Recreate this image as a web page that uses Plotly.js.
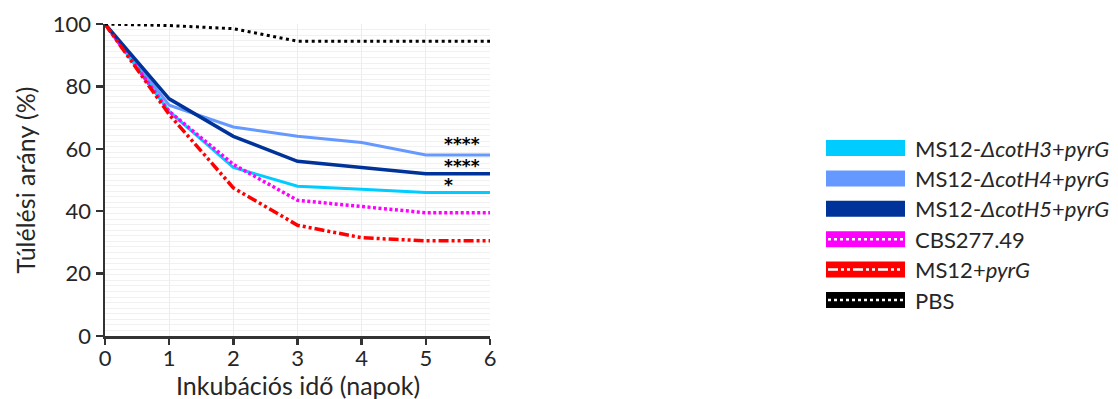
<!DOCTYPE html>
<html>
<head>
<meta charset="utf-8">
<script src="https://cdn.plot.ly/plotly-3.0.1.min.js"></script>
<style>html,body{margin:0;padding:0;background:#fff;}#chart{width:1118px;height:399px;}</style>
</head>
<body>
<div id="chart"></div>
<script>
// Data
const days = [0, 1, 2, 3, 4, 5, 6];
const cotH3 = [100, 72, 54, 48, 47, 46, 46];
const cotH4 = [100, 74, 67, 64, 62, 58, 58];
const cotH5 = [100, 76, 64, 56, 54, 52, 52];
const cbs = [100, 72, 55, 43.5, 41.5, 39.5, 39.5];
const ms12 = [100, 71, 47.5, 35.5, 31.5, 30.5, 30.5];
const pbs = [100, 99.5, 98.5, 94.5, 94.5, 94.5, 94.5];
const seriesNames = ['MS12-<i>ΔcotH3</i>+<i>pyrG</i>', 'MS12-<i>ΔcotH4</i>+<i>pyrG</i>', 'MS12-<i>ΔcotH5</i>+<i>pyrG</i>', 'CBS277.49', 'MS12+<i>pyrG</i>', 'PBS'];
const sigLabels = ['****', '****', '*'];
const sigY = [61.5, 54.5, 48.3];
const sigX = 5.25;
const xTitle = 'Inkubációs idő (napok)';
const yTitle = 'Túlélési arány (%)';

const colors = ['#00CCFF', '#6699FF', '#003399', '#FF00FF', '#FF0000', '#000000'];
const seriesData = [cotH3, cotH4, cotH5, cbs, ms12, pbs];
const dashes = ['solid', 'solid', 'solid', '3px,2.5px', '10px,3px,3px,3px,3px,3px', '3px,3.5px'];
const widths = [3, 3, 3.5, 3.5, 3.5, 3];
const drawOrder = [1, 0, 3, 2, 4, 5];

const traces = drawOrder.map(i => ({
  x: days, y: seriesData[i], type: 'scatter', mode: 'lines',
  line: {color: colors[i], width: widths[i], dash: dashes[i]},
  cliponaxis: false, showlegend: false, hoverinfo: 'skip'
}));

const L = 105, R = 490, T = 24, B = 336;
const W = 1118, H = 399;
const px2x = p => (p - L) / (R - L);
const px2y = p => (B - p) / (B - T);

const FONT = 'Lato, "Open Sans", sans-serif';
const shapes = [];
const annotations = [];
const legendTop = 148, legendStep = 30.4;
const legendDash = [null, null, null, 'dot', '10px,3px,3px,3px,3px,3px', 'dot'];
seriesNames.forEach((name, i) => {
  const cy = legendTop + i * legendStep;
  shapes.push({type: 'rect', xref: 'paper', yref: 'paper', x0: px2x(826), x1: px2x(905), y0: px2y(cy + 8), y1: px2y(cy - 8), fillcolor: colors[i], line: {width: 0}, layer: 'above'});
  if (legendDash[i]) {
    shapes.push({type: 'line', xref: 'paper', yref: 'paper', x0: px2x(828), x1: px2x(903), y0: px2y(cy), y1: px2y(cy), line: {color: '#ffffff', width: 2.5, dash: legendDash[i]}, layer: 'above'});
  }
  annotations.push({xref: 'paper', yref: 'paper', x: px2x(913), y: px2y(cy), xanchor: 'left', yanchor: 'middle', text: name, showarrow: false, font: {family: FONT, size: 22, color: '#262626'}});
});
sigLabels.forEach((s, i) => {
  annotations.push({xref: 'x', yref: 'y', x: sigX, y: sigY[i], xanchor: 'left', yanchor: 'middle', text: '<b>' + s + '</b>', showarrow: false, font: {family: '"DejaVu Sans"', size: 17, color: '#000'}});
});
annotations.push({xref: 'paper', yref: 'paper', x: 0.5, y: px2y(384.5), xanchor: 'center', yanchor: 'middle', text: xTitle, showarrow: false, font: {family: FONT, size: 25, color: '#262626'}});

const layout = {
  width: W, height: H,
  margin: {l: L, r: W - R, t: T, b: H - B, pad: 0},
  paper_bgcolor: '#fff', plot_bgcolor: '#fff',
  font: {family: FONT, color: '#262626'},
  showlegend: false,
  xaxis: {
    range: [0, 6], tickmode: 'array', tickvals: days, ticktext: days.map(String),
    showline: true, linecolor: '#333', linewidth: 2.5, ticks: 'outside', ticklen: 6, tickwidth: 2.5, tickcolor: '#333',
    showgrid: true, gridcolor: '#ececec', gridwidth: 1, zeroline: false,
    tickfont: {family: FONT, size: 22, color: '#262626'},
    ticklabelstandoff: -5,
    automargin: false
  },
  yaxis: {
    range: [0, 100], tickmode: 'array', tickvals: [0, 20, 40, 60, 80, 100],
    showline: true, linecolor: '#333', linewidth: 2.5, ticks: 'outside', ticklen: 7, tickwidth: 2.5, tickcolor: '#333',
    showgrid: false, zeroline: false,
    minor: {dtick: 100 / 56, tick0: 0, showgrid: true, gridcolor: '#f1f1f1', gridwidth: 1, ticks: ''},
    tickfont: {family: FONT, size: 22, color: '#262626'},
    title: {text: yTitle, font: {family: FONT, size: 25, color: '#262626'}, standoff: 10},
    automargin: false
  },
  shapes: shapes,
  annotations: annotations
};

Plotly.newPlot('chart', traces, layout, {staticPlot: true, displayModeBar: false});
</script>
</body>
</html>
